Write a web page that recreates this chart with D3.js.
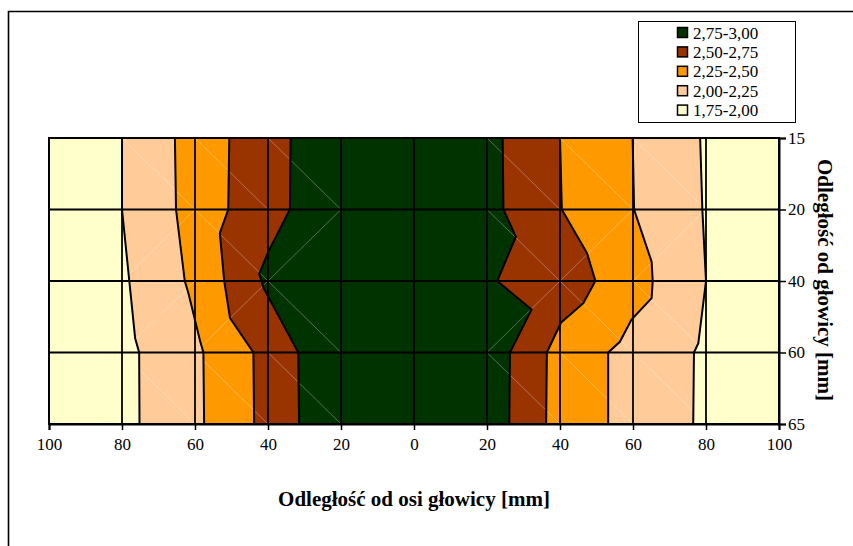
<!DOCTYPE html>
<html>
<head>
<meta charset="utf-8">
<script src="https://cdn.jsdelivr.net/npm/d3@7/dist/d3.min.js"></script>
<style>
  html, body { margin: 0; padding: 0; background: #fff; }
  svg { display: block; }
</style>
</head>
<body>
<svg id="chart" width="853" height="546"></svg>
<script>
// Distance from the head axis (mm), signed: left half negative, labelled by magnitude
const xTicks = [-100, -80, -60, -40, -20, 0, 20, 40, 60, 80, 100];
// Distance from the head (mm), one row per measurement depth
const depthLabels = ["15", "20", "40", "60", "65"];

// Contour bands, highest first (legend order)
const bandLabels = ["2,75-3,00", "2,50-2,75", "2,25-2,50", "2,00-2,25", "1,75-2,00"];
const bandColors = ["#003300", "#993300", "#FF9900", "#FFCC99", "#FFFFCC"];

// Iso-lines as [row index, x mm]; each level has a left and a right branch
const iso200Left  = [[0, -80], [1, -80], [2, -78], [2.8, -76.4], [3, -75.3], [4, -75.2]];
const iso200Right = [[0, 78.4], [1, 79], [2, 80], [2.87, 77.9], [3, 76.7], [4, 76.5]];
const iso225Left  = [[0, -65.5], [1, -65.2], [2, -62.8], [2.17, -61.8], [2.84, -58.6], [3, -57.7], [4, -57.5]];
const iso225Right = [[0, 59.9], [1, 60.3], [1.73, 65.1], [2, 65.4], [2.24, 65.1], [2.54, 59.6], [2.85, 56.4], [3, 53.2], [4, 53.2]];
const iso250Left  = [[0, -50.6], [1, -50.9], [1.33, -53.2], [2, -52], [2.52, -50.4], [3, -44], [4, -43.8]];
const iso250Right = [[0, 40], [1, 40.5], [1.61, 47.4], [2, 49.7], [2.31, 46.4], [2.58, 40.3], [3, 36.4], [4, 36.2]];
const iso275Left  = [[0, -33.8], [1, -34], [1.6, -40], [1.9, -42.4], [2.1, -41.2], [3, -31.7], [4, -31.5]];
const iso275Right = [[0, 24.3], [1, 24.5], [1.38, 27.9], [2, 22.8], [2.4, 32.2], [3, 26.3], [4, 26.1]];

// Triangulation seam in each grid cell: 1 = "\", -1 = "/", 0 = not visible
const cellSeams = [
  [0,  1,  1,  1, 0, 0,  1,  1,  1, 0],
  [0, -1,  1, -1, 0, 0,  1, -1, -1, 0],
  [0, -1, -1,  1, 0, 0, -1,  1,  1, 0],
  [0,  1,  1,  1, 0, 0,  1,  1,  1, 0]
];

const FONT = "'Liberation Serif', 'Times New Roman', Tinos, 'DejaVu Serif', serif";

const svg = d3.select("#chart");
const W = 853, H = 546;
const plot = { left: 49, right: 779, top: 138, bottom: 424 };

const x = d3.scaleLinear().domain([-100, 100]).range([plot.left, plot.right]);
const y = d3.scaleLinear().domain([0, depthLabels.length - 1]).range([plot.top, plot.bottom]);

// Outer chart frame (runs off the right and bottom edges)
svg.append("path")
  .attr("d", `M8.5,${H} L8.5,11.5 L${W},11.5`)
  .attr("fill", "none").attr("stroke", "#000").attr("stroke-width", 1.6);

const g = svg.append("g");

// Lowest band fills the whole plot
g.append("rect")
  .attr("x", plot.left).attr("y", plot.top)
  .attr("width", plot.right - plot.left).attr("height", plot.bottom - plot.top)
  .attr("fill", bandColors[4]);

const isoLevels = [
  { left: iso200Left, right: iso200Right, color: bandColors[3] },
  { left: iso225Left, right: iso225Right, color: bandColors[2] },
  { left: iso250Left, right: iso250Right, color: bandColors[1] },
  { left: iso275Left, right: iso275Right, color: bandColors[0] }
];

const ptLine = d3.line().x(d => x(d[1])).y(d => y(d[0]));

// Each band is the region between its left and right iso-lines
isoLevels.forEach(lv => {
  const ring = lv.left.concat(lv.right.slice().reverse());
  g.append("path")
    .attr("d", ptLine(ring) + "Z")
    .attr("fill", lv.color)
    .attr("stroke", lv.color).attr("stroke-width", 0.5);
});

// Faint triangulation seams
const colEdges = d3.range(-100, 100, 20);
cellSeams.forEach((row, r) => {
  row.forEach((dir, c) => {
    if (!dir) return;
    const x0 = colEdges[c], x1 = x0 + 20;
    const pts = dir > 0 ? [[r, x0], [r + 1, x1]] : [[r + 1, x0], [r, x1]];
    g.append("path")
      .attr("d", ptLine(pts))
      .attr("stroke", "#fff").attr("stroke-opacity", 0.3)
      .attr("stroke-width", 1).attr("fill", "none");
  });
});

// Grid lines
g.selectAll(".vgrid").data(xTicks.slice(1, -1)).enter().append("line")
  .attr("x1", d => x(d)).attr("x2", d => x(d))
  .attr("y1", plot.top).attr("y2", plot.bottom)
  .attr("stroke", "#000").attr("stroke-width", 1.8);
g.selectAll(".hgrid").data(d3.range(1, depthLabels.length - 1)).enter().append("line")
  .attr("x1", plot.left).attr("x2", plot.right)
  .attr("y1", d => y(d)).attr("y2", d => y(d))
  .attr("stroke", "#000").attr("stroke-width", 1.8);

// Iso-lines
isoLevels.forEach(lv => {
  [lv.left, lv.right].forEach(branch => {
    g.append("path")
      .attr("d", ptLine(branch))
      .attr("fill", "none").attr("stroke", "#000")
      .attr("stroke-width", 2).attr("stroke-linejoin", "miter");
  });
});

// Plot frame
g.append("rect")
  .attr("x", plot.left).attr("y", plot.top)
  .attr("width", plot.right - plot.left).attr("height", plot.bottom - plot.top)
  .attr("fill", "none").attr("stroke", "#000").attr("stroke-width", 2);

// Axes
const xAxis = d3.axisBottom(x).tickValues(xTicks).tickFormat(d => Math.abs(d)).tickSize(6).tickPadding(8);
const gx = svg.append("g").attr("transform", `translate(0,${plot.bottom})`).call(xAxis)
  .attr("font-family", FONT).attr("font-size", 17);
gx.select(".domain").attr("stroke-width", 2);
gx.selectAll(".tick line").attr("stroke-width", 1.5);
gx.selectAll("text").attr("fill", "#000");

const yAxis = d3.axisRight(y).tickValues(d3.range(depthLabels.length))
  .tickFormat(i => depthLabels[i]).tickSize(7).tickPadding(2);
const gy = svg.append("g").attr("transform", `translate(${plot.right},0)`).call(yAxis)
  .attr("font-family", FONT).attr("font-size", 17);
gy.select(".domain").attr("stroke-width", 2);
gy.selectAll(".tick line").attr("stroke-width", 1.5);
gy.selectAll("text").attr("fill", "#000");

// Axis titles
svg.append("text")
  .attr("x", 414).attr("y", 506)
  .attr("text-anchor", "middle")
  .attr("font-family", FONT)
  .attr("font-size", 21).attr("font-weight", "bold")
  .text("Odległość od osi głowicy [mm]");

svg.append("text")
  .attr("transform", "translate(818,280) rotate(90)")
  .attr("text-anchor", "middle")
  .attr("font-family", FONT)
  .attr("font-size", 21).attr("font-weight", "bold")
  .text("Odległość od głowicy [mm]");

// Legend
const lg = svg.append("g").attr("font-family", FONT).attr("font-size", 17);
lg.append("rect")
  .attr("x", 638.5).attr("y", 21.5).attr("width", 157).attr("height", 101)
  .attr("fill", "#fff").attr("stroke", "#000").attr("stroke-width", 1);
bandLabels.forEach((lab, i) => {
  const cy = 32.5 + i * 19.4;
  lg.append("rect")
    .attr("x", 677.5).attr("y", cy - 5).attr("width", 10).attr("height", 10)
    .attr("fill", bandColors[i]).attr("stroke", "#000").attr("stroke-width", 1.5);
  lg.append("text")
    .attr("x", 693).attr("y", cy + 6)
    .text(lab);
});
</script>
</body>
</html>
